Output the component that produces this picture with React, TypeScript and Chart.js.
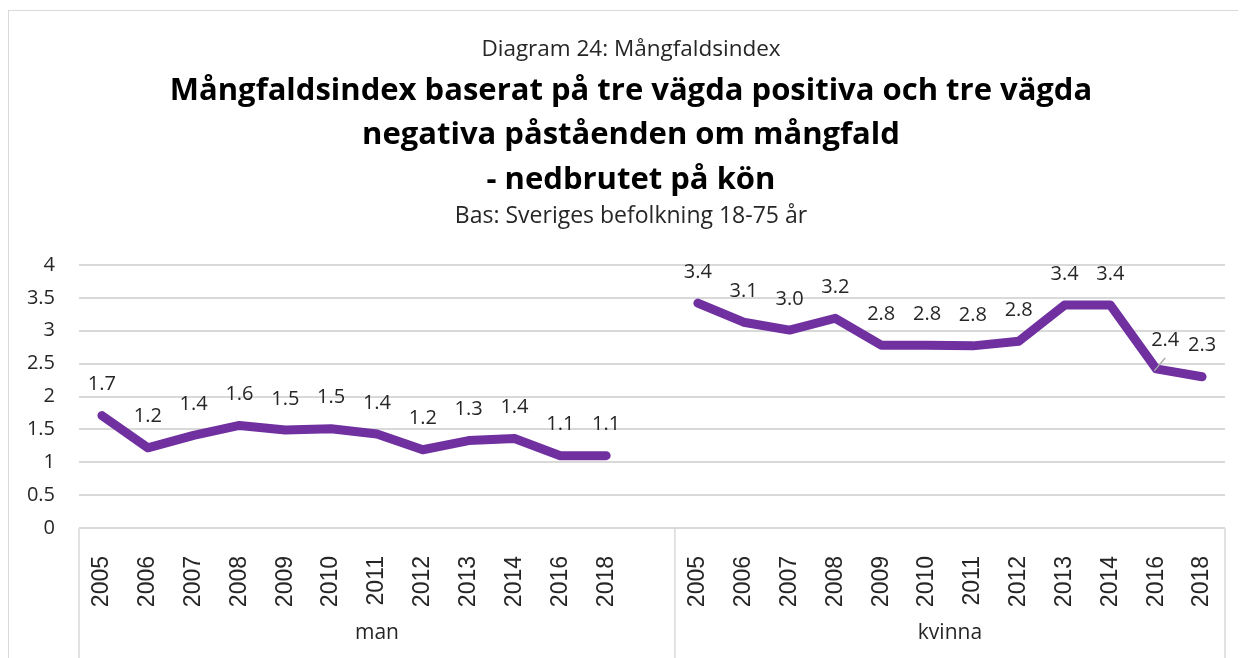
import React, { useEffect, useRef } from 'react';
import { Chart, registerables } from 'chart.js';

Chart.register(...registerables);

const years = ['2005', '2006', '2007', '2008', '2009', '2010', '2011', '2012', '2013', '2014', '2016', '2018'];
const groups = ['man', 'kvinna'];
const manValues = [1.71, 1.22, 1.41, 1.56, 1.49, 1.51, 1.43, 1.19, 1.33, 1.36, 1.1, 1.1];
const kvinnaValues = [3.42, 3.13, 3.01, 3.19, 2.78, 2.78, 2.77, 2.84, 3.39, 3.39, 2.42, 2.3];
const yTicks = [0, 0.5, 1, 1.5, 2, 2.5, 3, 3.5, 4];
const headerText = 'Diagram 24: Mångfaldsindex';
const titleLines = [
  'Mångfaldsindex baserat på tre vägda positiva och tre vägda',
  'negativa påståenden om mångfald',
  '- nedbrutet på kön',
];
const subtitleText = 'Bas: Sveriges befolkning 18-75 år';

const labels = [...years, '', ...years];
const values: (number | null)[] = [...manValues, null, ...kvinnaValues];

const TEXT = '#262626';
const GRID = '#d9d9d9';
const FONT = "'Open Sans'";

const headerPlugin = {
  id: 'header',
  afterDraw(chart: any) {
    const ctx = chart.ctx;
    ctx.save();
    ctx.font = `22.5px ${FONT}`;
    ctx.fillStyle = TEXT;
    ctx.textAlign = 'center';
    ctx.textBaseline = 'alphabetic';
    ctx.fillText(headerText, chart.width / 2, 45);
    ctx.restore();
  },
};

const dataLabelPlugin = {
  id: 'dataLabels',
  afterDatasetsDraw(chart: any) {
    const ctx = chart.ctx;
    const meta = chart.getDatasetMeta(0);
    const data = chart.data.datasets[0].data;
    ctx.save();
    ctx.font = `20px ${FONT}`;
    ctx.fillStyle = TEXT;
    ctx.textAlign = 'center';
    ctx.textBaseline = 'middle';
    meta.data.forEach((pt: any, i: number) => {
      const v = data[i];
      if (v == null) return;
      let x = pt.x;
      let y = pt.y - 31;
      if (i === 23) {
        x += 9;
        y += 2;
        ctx.strokeStyle = '#a6a6a6';
        ctx.lineWidth = 1.5;
        ctx.beginPath();
        ctx.moveTo(x, y + 18);
        ctx.lineTo(pt.x - 2, pt.y + 2);
        ctx.stroke();
      }
      ctx.fillText(Number(v).toFixed(1), x, y);
    });
    ctx.restore();
  },
};

const groupPlugin = {
  id: 'groups',
  afterDraw(chart: any) {
    const { ctx, chartArea } = chart;
    const xs = chart.scales.x;
    const sep = xs.getPixelForValue(years.length + 0.5);
    const bounds = [chartArea.left, sep, chartArea.right];
    ctx.save();
    ctx.strokeStyle = GRID;
    ctx.lineWidth = 1.5;
    bounds.forEach((bx) => {
      ctx.beginPath();
      ctx.moveTo(bx, chartArea.bottom);
      ctx.lineTo(bx, chart.height);
      ctx.stroke();
    });
    ctx.font = `21px ${FONT}`;
    ctx.fillStyle = TEXT;
    ctx.textAlign = 'center';
    ctx.textBaseline = 'middle';
    groups.forEach((g, i) => {
      ctx.fillText(g, (bounds[i] + bounds[i + 1]) / 2, 622);
    });
    ctx.restore();
  },
};

export default function App() {
  const ref = useRef<HTMLCanvasElement>(null);
  useEffect(() => {
    document.documentElement.style.overflow = 'hidden';
    document.body.style.overflow = 'hidden';
    const chart = new Chart(ref.current as HTMLCanvasElement, {
      type: 'line',
      data: {
        labels,
        datasets: [
          {
            data: values,
            yAxisID: 'y',
            borderColor: '#7030A0',
            backgroundColor: '#7030A0',
            borderWidth: 9,
            pointRadius: 0,
            pointHoverRadius: 0,
            spanGaps: false,
            tension: 0,
            borderCapStyle: 'round',
            borderJoinStyle: 'round',
          },
        ],
      },
      options: {
        animation: false,
        responsive: false,
        layout: { padding: { left: 0, right: 0, top: 20, bottom: 0 } },
        plugins: {
          legend: { display: false },
          tooltip: { enabled: false },
          title: {
            display: true,
            text: titleLines,
            color: '#000',
            font: { family: FONT, size: 31, weight: 'bold', lineHeight: '44.5px' },
            padding: { top: 37.5, bottom: 0 },
          },
          subtitle: {
            display: true,
            text: subtitleText,
            color: TEXT,
            font: { family: FONT, size: 23, lineHeight: 1 },
            padding: { top: 2.5, bottom: 37.5 },
          },
        },
        scales: {
          x: {
            offset: true,
            grid: { display: false },
            border: { display: false },
            ticks: {
              autoSkip: false,
              maxRotation: 90,
              minRotation: 90,
              padding: 20,
              color: TEXT,
              font: { family: 'Liberation Sans', size: 23 },
            },
            afterFit: (s: any) => {
              s.height = 171;
            },
          },
          y: {
            position: 'left',
            min: 0,
            max: 4,
            afterBuildTicks: (s: any) => {
              s.ticks = yTicks.map((v) => ({ value: v }));
            },
            grid: { color: GRID, lineWidth: 2, drawTicks: false },
            border: { display: false },
            ticks: {
              padding: 24,
              color: TEXT,
              font: { family: FONT, size: 20 },
              callback: (v: any) => String(v),
            },
            afterFit: (s: any) => {
              s.width = 70;
            },
          },
          yRight: {
            position: 'right',
            min: 0,
            max: 4,
            grid: { display: false },
            border: { display: false },
            ticks: { display: false },
            afterFit: (s: any) => {
              s.width = 28;
            },
          },
        },
      },
      plugins: [headerPlugin, dataLabelPlugin, groupPlugin],
    } as any);
    return () => chart.destroy();
  }, []);

  return (
    <div style={{ paddingTop: 2 }}>
      <div
        style={{
          width: 1246,
          height: 690,
          border: `1px solid ${GRID}`,
          boxSizing: 'border-box',
          background: '#fff',
        }}
      >
        <canvas ref={ref} width={1244} height={688} style={{ display: 'block' }} />
      </div>
    </div>
  );
}
